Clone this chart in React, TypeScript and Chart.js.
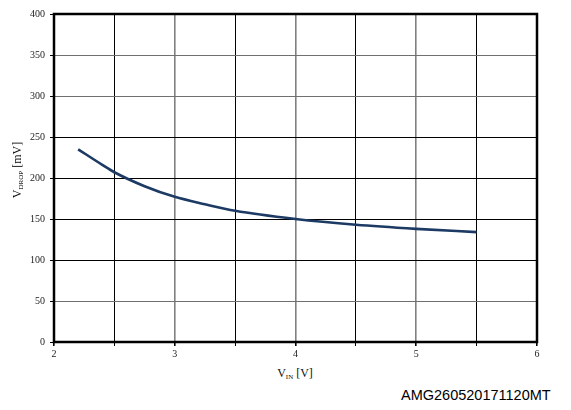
import React, { useEffect, useRef } from "react";
import { Chart, registerables } from "chart.js";

Chart.register(...registerables);

const vin: number[] = [2.2, 2.4, 2.5, 2.75, 3.0, 3.25, 3.5, 4.0, 4.5, 5.0, 5.5];
const vdrop: number[] = [235, 216, 207, 190, 177, 168, 160, 150, 143, 138, 134];
const xTicks: number[] = [2, 3, 4, 5, 6];
const watermark = "AMG260520171120MT";

const framePlugin = {
  id: "frame",
  afterDraw(chart: any) {
    const { ctx, chartArea } = chart;
    ctx.save();
    ctx.strokeStyle = "#000";
    ctx.lineWidth = 2.5;
    ctx.strokeRect(chartArea.left, chartArea.top, chartArea.right - chartArea.left, chartArea.bottom - chartArea.top);
    ctx.restore();
  },
};

export default function App() {
  const ref = useRef<HTMLCanvasElement | null>(null);
  useEffect(() => {
    if (!ref.current) return;
    const chart = new Chart(ref.current, {
      type: "line",
      data: {
        datasets: [
          {
            data: vin.map((x, i) => ({ x, y: vdrop[i] })),
            borderColor: "#1c3a64",
            borderWidth: 2.6,
            pointRadius: 0,
            cubicInterpolationMode: "monotone",
            fill: false,
          },
        ],
      },
      options: {
        responsive: false,
        animation: false,
        devicePixelRatio: 1,
        layout: { padding: { left: 0, right: 26, top: 6, bottom: 0 } },
        plugins: { legend: { display: false }, tooltip: { enabled: false } },
        scales: {
          x: {
            type: "linear",
            min: 2,
            max: 6,
            afterFit: (s: any) => { s.height = 22; s.paddingLeft = 0; s.paddingRight = 0; },
            border: { display: false },
            grid: {
              color: (c: any) => (c.tick && Number.isInteger(c.tick.value) ? "#808080" : "#000"),
              lineWidth: (c: any) => (c.tick && Number.isInteger(c.tick.value) ? 1.6 : 1),
              tickColor: "#000",
              tickLength: 4,
              drawTicks: true,
            },
            ticks: {
              stepSize: 0.5,
              autoSkip: false,
              maxRotation: 0,
              padding: 2,
              color: "#222",
              font: { family: "'Liberation Serif', 'Times New Roman', serif", size: 10 },
              callback: (v: any) => (xTicks.includes(Number(v)) ? String(v) : ""),
            },
          },
          y: {
            min: 0,
            max: 400,
            afterFit: (s: any) => { s.width = 46; s.paddingTop = 0; s.paddingBottom = 0; },
            border: { display: false },
            grid: {
              color: (c: any) => {
                const v = c.tick ? c.tick.value : 0;
                return v === 350 || v === 300 || v === 50 ? "#707070" : "#000";
              },
              lineWidth: 1,
              tickColor: "#000",
              tickLength: 4,
            },
            ticks: {
              stepSize: 50,
              padding: 5,
              color: "#222",
              font: { family: "'Liberation Serif', 'Times New Roman', serif", size: 10 },
            },
          },
        },
      },
      plugins: [framePlugin],
    } as any);
    return () => chart.destroy();
  }, []);

  const serif = "'Liberation Serif', 'Times New Roman', serif";
  return (
    <div style={{ position: "relative", width: 555, height: 394 }}>
      <canvas ref={ref} width={555} height={356} style={{ display: "block" }} />
      <div
        style={{
          position: "absolute",
          left: -51,
          top: 155,
          width: 120,
          height: 14,
          lineHeight: "14px",
          textAlign: "center",
          transform: "rotate(-90deg)",
          fontFamily: serif,
          fontSize: 12,
          color: "#111",
          whiteSpace: "nowrap",
        }}
      >
        V<span style={{ fontSize: 7, position: "relative", top: 2 }}>DROP</span> [mV]
      </div>
      <div
        style={{
          position: "absolute",
          left: 187,
          top: 359,
          width: 200,
          lineHeight: "12px",
          textAlign: "center",
          fontFamily: serif,
          fontSize: 12,
          color: "#111",
          whiteSpace: "nowrap",
        }}
      >
        V<span style={{ fontSize: 7, position: "relative", top: 2 }}>IN</span> [V]
      </div>
      <div
        style={{
          position: "absolute",
          left: 393,
          top: 380,
          lineHeight: "14.5px",
          fontFamily: "'Liberation Sans', Arial, sans-serif",
          fontSize: 14.5,
          color: "#000",
          whiteSpace: "nowrap",
        }}
      >
        {watermark}
      </div>
    </div>
  );
}
